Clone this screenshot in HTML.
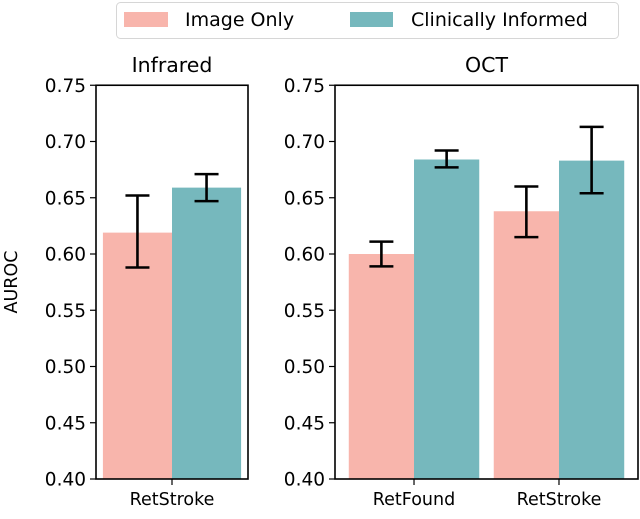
<!DOCTYPE html>
<html><head><meta charset="utf-8"><style>
body{margin:0;background:#fff;}
svg text{font-family:"DejaVu Sans","Liberation Sans",sans-serif;fill:#000;}
</style></head><body>
<svg id="chart" width="640" height="514" xmlns="http://www.w3.org/2000/svg">
<g>
<rect x="116.5" y="2.5" width="502" height="36" rx="4" fill="#fff" stroke="#d6d6d6"/>
<rect x="124" y="12" width="44" height="15" fill="#f8b5ac"/>
<text x="185" y="26" font-size="19">Image Only</text>
<rect x="350" y="12" width="43" height="15" fill="#76b8bd"/>
<text x="411" y="26" font-size="19">Clinically Informed</text>
</g>
<g id="plots"></g>
</svg>
<script>
const ticks=[0.40,0.45,0.50,0.55,0.60,0.65,0.70,0.75];
const infraredCats=["RetStroke"];
const infraredImage=[0.619], infraredImageLo=[0.588], infraredImageHi=[0.652];
const infraredClin=[0.659], infraredClinLo=[0.647], infraredClinHi=[0.671];
const octCats=["RetFound","RetStroke"];
const octImage=[0.600,0.638], octImageLo=[0.589,0.615], octImageHi=[0.611,0.660];
const octClin=[0.684,0.683], octClinLo=[0.677,0.654], octClinHi=[0.692,0.713];

const NS="http://www.w3.org/2000/svg";
const root=document.getElementById('plots');
const Y0=479, Y1=85.25, VMIN=0.40, VMAX=0.75, BW=0.45;
const y=v=>Y0-(v-VMIN)/(VMAX-VMIN)*(Y0-Y1);
function mk(tag,attrs,parent){const e=document.createElementNS(NS,tag);for(const k in attrs)e.setAttribute(k,attrs[k]);parent.appendChild(e);return e;}

function panel(name,title,left,right,cats,img,imgLo,imgHi,cl,clLo,clHi){
  const g=mk('g',{},root);
  
  
  const n=cats.length, W=right-left;
  const span=(n-1)+2*BW, pad=span*0.05, xmin=-BW-pad, xmax=(n-1)+BW+pad;
  const x=v=>left+(v-xmin)/(xmax-xmin)*W;
  for(let i=0;i<n;i++){
    const r1=mk('rect',{x:x(i-BW),y:y(img[i]),width:x(i)-x(i-BW),height:Y0-y(img[i]),fill:'#f8b5ac'},g);
    
    
    const r2=mk('rect',{x:x(i),y:y(cl[i]),width:x(i+BW)-x(i),height:Y0-y(cl[i]),fill:'#76b8bd'},g);
    
    
    [[i-BW/2,imgLo[i],imgHi[i],'image-only'],[i+BW/2,clLo[i],clHi[i],'clinically-informed']].forEach(([c,lo,hi,s])=>{
      const eg=mk('g',{stroke:'#000','stroke-width':2.6},g);
      
      
      const cx=x(c);
      mk('line',{x1:cx,x2:cx,y1:y(lo),y2:y(hi)},eg);
      mk('line',{x1:cx-12,x2:cx+12,y1:y(lo),y2:y(lo)},eg);
      mk('line',{x1:cx-12,x2:cx+12,y1:y(hi),y2:y(hi)},eg);
    });
    const tk=mk('line',{x1:x(i),x2:x(i),y1:Y0,y2:Y0+6,stroke:'#000','stroke-width':1.2},g);
    
    
    const tl=mk('text',{x:x(i),y:Y0+26,'font-size':17.5,'text-anchor':'middle'},g);
    tl.textContent=cats[i];
    
    
  }
  const box=mk('rect',{x:left,y:Y1,width:W,height:Y0-Y1,fill:'none',stroke:'#000','stroke-width':1.6},g);
  
  
  ticks.forEach(t=>{
    const l=mk('line',{x1:left-6,x2:left,y1:y(t),y2:y(t),stroke:'#000','stroke-width':1.2},g);
    
    
    const tx=mk('text',{x:left-10,y:y(t)+6.5,'font-size':18.5,'text-anchor':'end'},g);
    tx.textContent=t.toFixed(2);
    
    
  });
  const tt=mk('text',{x:left+W/2,y:72,'font-size':20.5,'text-anchor':'middle'},g);
  tt.textContent=title;
  
  
}
panel('infrared','Infrared',96,248,infraredCats,infraredImage,infraredImageLo,infraredImageHi,infraredClin,infraredClinLo,infraredClinHi);
panel('oct','OCT',335,638,octCats,octImage,octImageLo,octImageHi,octClin,octClinLo,octClinHi);
const yl=mk('text',{x:0,y:0,'font-size':17.5,'text-anchor':'middle',transform:'translate(17,282) rotate(-90)'},root);
yl.textContent='AUROC';


</script>
</body></html>
